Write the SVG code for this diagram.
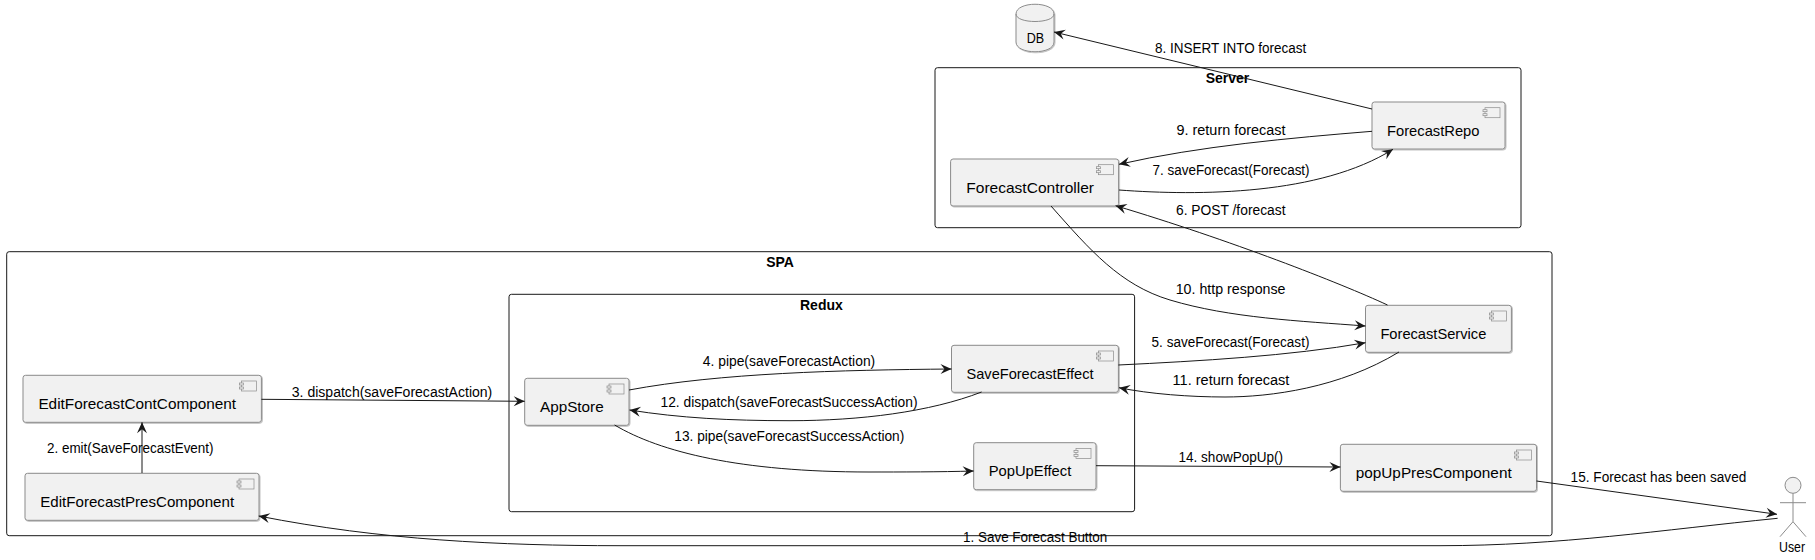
<svg xmlns="http://www.w3.org/2000/svg" width="1815" height="560" viewBox="0 0 1815 560">
<style>
text{font-family:"Liberation Sans",Arial,sans-serif;fill:#000}
.n{font-size:15px}
.l{font-size:14px}
.t{font-size:14px;font-weight:bold;text-anchor:middle}
.f{fill:none;stroke:#181818;stroke-width:1}
.b{fill:#f1f1f1;stroke:#8c8c8c;stroke-width:1;filter:url(#s)}
.i{fill:#f1f1f1;stroke:#8c8c8c;stroke-width:.7}
.c{fill:none;stroke:#181818;stroke-width:1;marker-end:url(#a)}
.w{fill:none;stroke:#8c8c8c;stroke-width:1}
</style>
<defs>
<filter id="s" x="-5%" y="-5%" width="110%" height="115%"><feDropShadow dx="0.8" dy="0.8" stdDeviation="0.7" flood-color="#000" flood-opacity="0.3"/></filter>
<marker id="a" markerUnits="userSpaceOnUse" markerWidth="13" markerHeight="12" refX="11" refY="5" orient="auto" overflow="visible"><path d="M11,5 L0,0 L4,5 L0,10 Z" fill="#181818"/></marker>
<g id="ic"><rect class="i" x="2" y="0" width="15" height="10"/><rect class="i" x="0" y="2" width="4" height="2"/><rect class="i" x="0" y="6" width="4" height="2"/></g>
</defs>
<g id="Server"><rect class="f" x="935" y="67.7" width="586" height="160" rx="2.5"/><text class="t" x="1227.5" y="82.5">Server</text></g>
<g id="SPA"><rect class="f" x="6.7" y="251.7" width="1545.3" height="284" rx="2.5"/><text class="t" x="780" y="267">SPA</text></g>
<g id="Redux"><rect class="f" x="509" y="294.3" width="625.6" height="217.4" rx="2.5"/><text class="t" x="821.4" y="310">Redux</text></g>
<g id="DB"><path class="b" d="M1016,14 C1016,1 1054,1 1054,14 V42 C1054,55 1016,55 1016,42 Z"/><path class="w" d="M1016,14 C1016,24 1054,24 1054,14"/><text class="n" x="1026.7" y="42.7" textLength="17.4" lengthAdjust="spacingAndGlyphs">DB</text></g>
<g id="ForecastRepo"><rect class="b" x="1372" y="102" width="133" height="47" rx="2.5"/><use href="#ic" x="1483" y="107.7"/><text class="n" x="1387" y="135.7" textLength="92.5" lengthAdjust="spacingAndGlyphs">ForecastRepo</text></g>
<g id="ForecastController"><rect class="b" x="950.6" y="159" width="168" height="47" rx="2.5"/><use href="#ic" x="1096.6" y="164.7"/><text class="n" x="966.3" y="193" textLength="127.7" lengthAdjust="spacingAndGlyphs">ForecastController</text></g>
<g id="EditForecastContComponent"><rect class="b" x="23" y="375.3" width="238.4" height="47" rx="2.5"/><use href="#ic" x="239.4" y="381"/><text class="n" x="38.4" y="409.3" textLength="197.7" lengthAdjust="spacingAndGlyphs">EditForecastContComponent</text></g>
<g id="EditForecastPresComponent"><rect class="b" x="25" y="473.3" width="234" height="47" rx="2.5"/><use href="#ic" x="237" y="479"/><text class="n" x="40.3" y="507.3" textLength="193.8" lengthAdjust="spacingAndGlyphs">EditForecastPresComponent</text></g>
<g id="AppStore"><rect class="b" x="524.7" y="378.3" width="104.3" height="47" rx="2.5"/><use href="#ic" x="607" y="384"/><text class="n" x="540" y="412.3" textLength="63.7" lengthAdjust="spacingAndGlyphs">AppStore</text></g>
<g id="SaveForecastEffect"><rect class="b" x="951.5" y="345.3" width="166.9" height="47" rx="2.5"/><use href="#ic" x="1096.4" y="351"/><text class="n" x="966.5" y="379" textLength="127" lengthAdjust="spacingAndGlyphs">SaveForecastEffect</text></g>
<g id="PopUpEffect"><rect class="b" x="973.7" y="442.7" width="122.3" height="47" rx="2.5"/><use href="#ic" x="1074" y="448.4"/><text class="n" x="988.7" y="476" textLength="82.6" lengthAdjust="spacingAndGlyphs">PopUpEffect</text></g>
<g id="ForecastService"><rect class="b" x="1365.5" y="305.3" width="145.9" height="47" rx="2.5"/><use href="#ic" x="1489.4" y="311"/><text class="n" x="1380.4" y="339" textLength="105.9" lengthAdjust="spacingAndGlyphs">ForecastService</text></g>
<g id="popUpPresComponent"><rect class="b" x="1340.4" y="444.3" width="196.1" height="47" rx="2.5"/><use href="#ic" x="1514.5" y="450"/><text class="n" x="1355.7" y="478.3" textLength="156" lengthAdjust="spacingAndGlyphs">popUpPresComponent</text></g>
<g id="User"><circle cx="1793" cy="485.3" r="8" fill="#f1f1f1" stroke="#8c8c8c"/><path class="w" d="M1793,493.3 V521.7 M1780,502.7 H1806 M1793,521.7 L1780,536.7 M1793,521.7 L1806,536.7"/><text class="n" x="1779" y="551.7" textLength="26" lengthAdjust="spacingAndGlyphs">User</text></g>
<g id="connectors">
<path class="c" d="M1372,109 L1054,32"/>
<path class="c" d="M1372,131.3 C1290,138 1200,146 1119,164.3"/>
<path class="c" d="M1119,190 C1200,196 1320,195 1393,149.3"/>
<path class="c" d="M1387.5,305 C1340,283 1230,240 1115.6,205.7"/>
<path class="c" d="M1051,206 C1090,250 1120,285 1170,300 C1230,318 1300,321 1365.5,326"/>
<path class="c" d="M1118.4,365 C1200,361 1290,356 1365.5,342.7"/>
<path class="c" d="M1399,352 C1340,388 1270,397 1225,397 C1190,397 1150,394 1119,387.7"/>
<path class="c" d="M629,390 C720,373 840,370 951.5,369"/>
<path class="c" d="M981.6,392 C930,412 860,420.7 790,420.7 C730,420.7 680,418 629.5,410"/>
<path class="c" d="M614.6,425 C660,452 740,472 869,472 C900,472 940,472 973.7,471"/>
<path class="c" d="M261.4,399.3 L524.7,401.3"/>
<path class="c" d="M142,473 V422.3"/>
<path class="c" d="M1096,465.7 L1340.4,467"/>
<path class="c" d="M1536.5,481 L1777,514.3"/>
<path class="c" d="M1777.6,518.3 C1660,530 1560,545.7 1440,545.7 L620,545.7 C500,545.7 380,540 258.7,516"/>
</g>
<g id="labels">
<text class="l" x="963" y="542" textLength="144.3" lengthAdjust="spacingAndGlyphs">1. Save Forecast Button</text>
<text class="l" x="47" y="453" textLength="166.5" lengthAdjust="spacingAndGlyphs">2. emit(SaveForecastEvent)</text>
<text class="l" x="291.8" y="396.7" textLength="200.5" lengthAdjust="spacingAndGlyphs">3. dispatch(saveForecastAction)</text>
<text class="l" x="702.8" y="366" textLength="172.4" lengthAdjust="spacingAndGlyphs">4. pipe(saveForecastAction)</text>
<text class="l" x="1151.6" y="347.3" textLength="157.8" lengthAdjust="spacingAndGlyphs">5. saveForecast(Forecast)</text>
<text class="l" x="1176" y="215.3" textLength="109.5" lengthAdjust="spacingAndGlyphs">6. POST /forecast</text>
<text class="l" x="1152.5" y="175.3" textLength="157.1" lengthAdjust="spacingAndGlyphs">7. saveForecast(Forecast)</text>
<text class="l" x="1155" y="53.3" textLength="151.3" lengthAdjust="spacingAndGlyphs">8. INSERT INTO forecast</text>
<text class="l" x="1176.5" y="134.7" textLength="109" lengthAdjust="spacingAndGlyphs">9. return forecast</text>
<text class="l" x="1175.7" y="294" textLength="109.8" lengthAdjust="spacingAndGlyphs">10. http response</text>
<text class="l" x="1172.6" y="385" textLength="116.8" lengthAdjust="spacingAndGlyphs">11. return forecast</text>
<text class="l" x="660.5" y="407" textLength="257" lengthAdjust="spacingAndGlyphs">12. dispatch(saveForecastSuccessAction)</text>
<text class="l" x="674.3" y="441" textLength="230" lengthAdjust="spacingAndGlyphs">13. pipe(saveForecastSuccessAction)</text>
<text class="l" x="1178.5" y="462" textLength="104.6" lengthAdjust="spacingAndGlyphs">14. showPopUp()</text>
<text class="l" x="1570.6" y="482" textLength="175.7" lengthAdjust="spacingAndGlyphs">15. Forecast has been saved</text>
</g>
</svg>
